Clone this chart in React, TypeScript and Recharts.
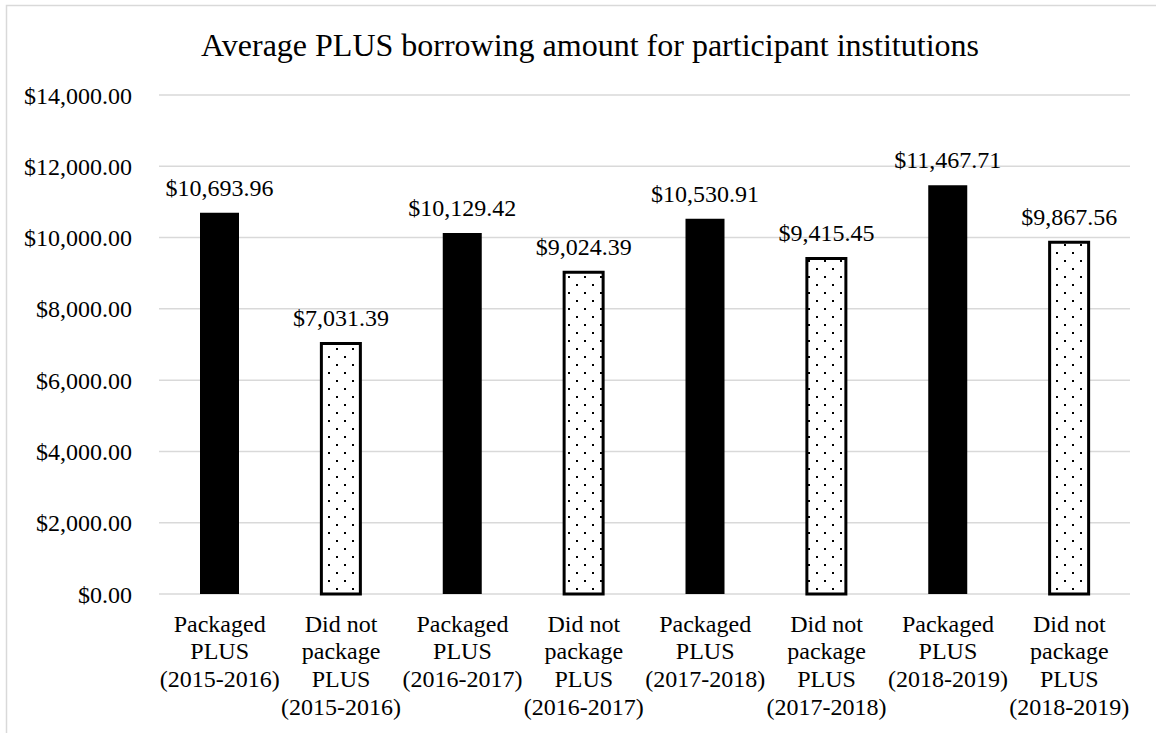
import { BarChart, Bar, XAxis, YAxis, CartesianGrid, LabelList, Cell } from 'recharts';

const FONT = "'Liberation Serif', 'Times New Roman', serif";

const categories = [
  'Packaged\nPLUS\n(2015-2016)',
  'Did not\npackage\nPLUS\n(2015-2016)',
  'Packaged\nPLUS\n(2016-2017)',
  'Did not\npackage\nPLUS\n(2016-2017)',
  'Packaged\nPLUS\n(2017-2018)',
  'Did not\npackage\nPLUS\n(2017-2018)',
  'Packaged\nPLUS\n(2018-2019)',
  'Did not\npackage\nPLUS\n(2018-2019)',
];

const amounts = [10693.96, 7031.39, 10129.42, 9024.39, 10530.91, 9415.45, 11467.71, 9867.56];

const packagedFlags = [true, false, true, false, true, false, true, false];

const yTicks = [0, 2000, 4000, 6000, 8000, 10000, 12000, 14000];

const data = categories.map((label, i) => ({
  label,
  amount: amounts[i],
  packaged: packagedFlags[i],
}));

const money = (v: any) =>
  '$' + Number(v).toLocaleString('en-US', { minimumFractionDigits: 2, maximumFractionDigits: 2 });

const textStyle = { fontFamily: FONT, fontSize: 24, fill: '#000' };

// multi-line category label under each bar
const CategoryTick = ({ x, y, payload }: any) => {
  const lines = String(payload.value).split('\n');
  return (
    <text x={x} y={y} textAnchor="middle" style={textStyle}>
      {lines.map((line, i) => (
        <tspan key={i} x={x} y={y + 37.5 + i * 27.8}>
          {line}
        </tspan>
      ))}
    </text>
  );
};

export default function App() {
  return (
    <div
      style={{
        position: 'absolute',
        left: 0,
        top: 0,
        width: 1156,
        height: 733,
        background: '#fff',
        overflow: 'hidden',
        fontFamily: FONT,
      }}
    >
      <svg width={1156} height={733} style={{ position: 'absolute', left: 0, top: 0 }}>
        <rect x={6.5} y={5.5} width={1200} height={800} fill="none" stroke="#d9d9d9" strokeWidth={1.5} />
        <text x={590} y={56} textAnchor="middle" style={{ ...textStyle, fontSize: 32 }}>
          Average PLUS borrowing amount for participant institutions
        </text>
      </svg>
      <BarChart
        width={1156}
        height={733}
        data={data}
        margin={{ top: 95, right: 26, bottom: 0, left: 0 }}
        style={{ position: 'absolute', left: 0, top: 0, fontFamily: FONT }}
      >
        <defs>
          <pattern id="dots" patternUnits="userSpaceOnUse" width={16} height={16}>
            <rect width={16} height={16} fill="#fff" />
            <rect x={0} y={12} width={2} height={2} fill="#000" />
            <rect x={8} y={4} width={2} height={2} fill="#000" />
          </pattern>
        </defs>
        <CartesianGrid vertical={false} stroke="#d9d9d9" strokeWidth={1.5} />
        <XAxis
          dataKey="label"
          height={139}
          interval={0}
          axisLine={false}
          tickLine={false}
          tickSize={0}
          tickMargin={0}
          tick={(props: any) => <CategoryTick {...props} />}
        />
        <YAxis
          width={159}
          domain={[0, 14000]}
          ticks={yTicks}
          tickFormatter={money}
          axisLine={false}
          tickLine={false}
          tickSize={0}
          tickMargin={27}
          tick={{ style: textStyle, fontSize: 24, fill: '#000' }}
        />
        <Bar dataKey="amount" barSize={39} isAnimationActive={false}>
          {data.map((d, i) =>
            d.packaged ? (
              <Cell key={i} fill="#000" />
            ) : (
              <Cell key={i} fill="url(#dots)" stroke="#000" strokeWidth={3} />
            )
          )}
          <LabelList
            dataKey="amount"
            position="top"
            offset={17}
            formatter={money}
            fontSize={24}
            fill="#000"
            style={textStyle}
          />
        </Bar>
      </BarChart>
    </div>
  );
}
